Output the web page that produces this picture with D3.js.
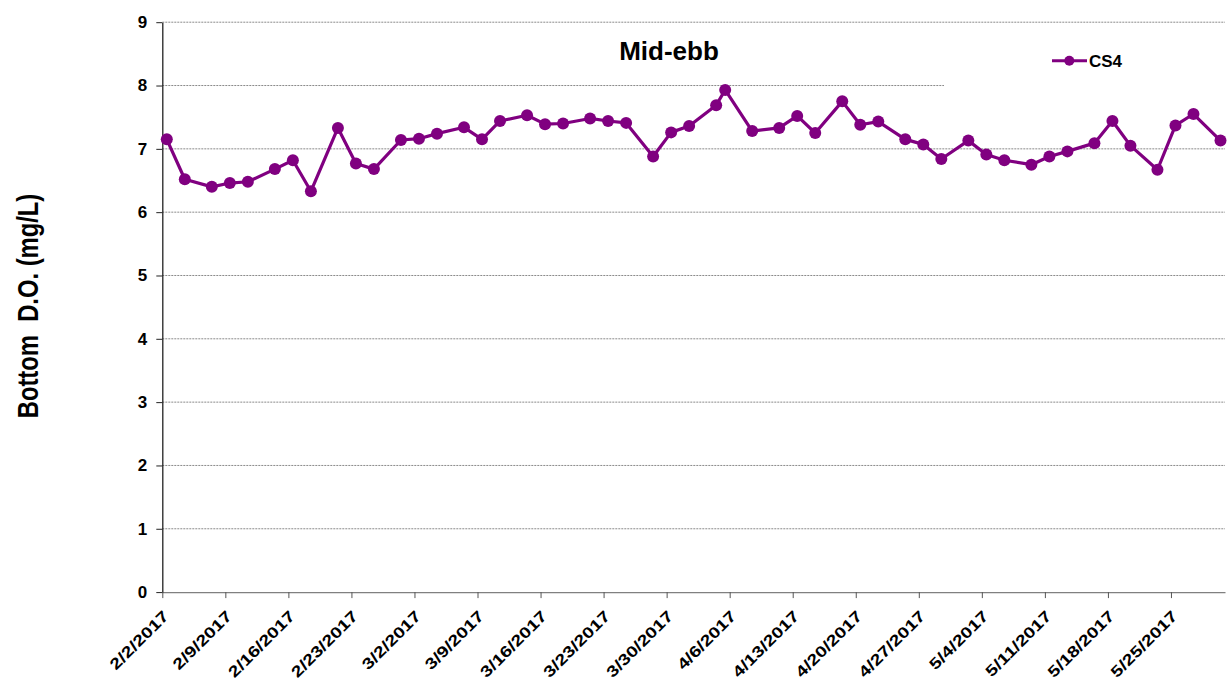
<!DOCTYPE html>
<html><head><meta charset="utf-8">
<script src="https://cdn.jsdelivr.net/npm/d3@7"></script>
<style>body{margin:0;background:#fff;}svg{display:block;font-family:"Liberation Sans",Arial,sans-serif;}</style>
</head><body>
<svg id="c" width="1229" height="680"></svg>
<script>
const dates = ["2017-02-02","2017-02-04","2017-02-07","2017-02-09","2017-02-11","2017-02-14","2017-02-16","2017-02-18","2017-02-21","2017-02-23","2017-02-25","2017-02-28","2017-03-02","2017-03-04","2017-03-07","2017-03-09","2017-03-11","2017-03-14","2017-03-16","2017-03-18","2017-03-21","2017-03-23","2017-03-25","2017-03-28","2017-03-30","2017-04-01","2017-04-04","2017-04-05","2017-04-08","2017-04-11","2017-04-13","2017-04-15","2017-04-18","2017-04-20","2017-04-22","2017-04-25","2017-04-27","2017-04-29","2017-05-02","2017-05-04","2017-05-06","2017-05-09","2017-05-11","2017-05-13","2017-05-16","2017-05-18","2017-05-20","2017-05-23","2017-05-25","2017-05-27","2017-05-30"];
const cs4 = [7.15,6.52,6.40,6.46,6.48,6.68,6.82,6.33,7.33,6.77,6.68,7.14,7.16,7.24,7.34,7.15,7.44,7.53,7.39,7.40,7.48,7.44,7.41,6.88,7.26,7.36,7.69,7.93,7.28,7.33,7.52,7.25,7.75,7.38,7.43,7.15,7.07,6.84,7.13,6.91,6.82,6.75,6.88,6.96,7.09,7.44,7.05,6.67,7.37,7.55,7.13];
const xTickLabels = ["2/2/2017","2/9/2017","2/16/2017","2/23/2017","3/2/2017","3/9/2017","3/16/2017","3/23/2017","3/30/2017","4/6/2017","4/13/2017","4/20/2017","4/27/2017","5/4/2017","5/11/2017","5/18/2017","5/25/2017"];
const yTicks = [0,1,2,3,4,5,6,7,8,9];
const seriesName = "CS4";
const chartTitle = "Mid-ebb";
const yTitle = "Bottom  D.O. (mg/L)";
const xDomain = ["2017-02-02","2017-05-31"];

const svg = d3.select("#c");
const L = 162.3, R = 1225, T = 22.2, B = 592.1;
const parse = d3.timeParse("%Y-%m-%d");
const parseLbl = d3.timeParse("%m/%d/%Y");
const x = d3.scaleTime().domain(xDomain.map(parse)).range([L, R]);
const y = d3.scaleLinear().domain([0, 9]).range([B, T]);
const purple = "#800080";

// gridlines
svg.append("g").selectAll("line").data(yTicks.filter(v => v > 0)).join("line")
  .attr("x1", L).attr("x2", R).attr("y1", d => y(d)).attr("y2", d => y(d))
  .attr("stroke", "#8a8a8a").attr("stroke-width", 1).attr("stroke-dasharray", "2,1");

// legend background (covers part of gridline 8)
svg.append("rect").attr("x", 944).attr("y", 35).attr("width", R - 944 + 1).attr("height", 55).attr("fill", "#fff");

// x axis
const xAxis = d3.axisBottom(x)
  .tickValues(xTickLabels.map(parseLbl))
  .tickFormat(d => d3.timeFormat("%-m/%-d/%Y")(d))
  .tickSize(6).tickSizeOuter(0);
const gx = svg.append("g").attr("transform", `translate(0,${B})`).call(xAxis);
gx.select(".domain").attr("stroke", "#808080").attr("stroke-width", 1.3);
gx.selectAll(".tick line").attr("stroke", "#555");
gx.selectAll("text")
  .attr("font-size", 15.5).attr("font-weight", "bold").attr("fill", "#000")
  .attr("text-anchor", "end").attr("dy", 0)
  .attr("transform", "translate(7,25) rotate(-45) scale(1.26,1)")
  .attr("x", 0).attr("y", 0);

// y axis
const yAxis = d3.axisLeft(y).tickValues(yTicks).tickFormat(d3.format("d")).tickSize(6).tickSizeOuter(0);
const gy = svg.append("g").attr("transform", `translate(${L},0)`).call(yAxis);
gy.select(".domain").attr("stroke", "#222").attr("stroke-width", 1.3);
gy.selectAll(".tick line").attr("stroke", "#222");
gy.selectAll("text").attr("font-size", 17).attr("font-weight", "bold").attr("fill", "#000").attr("x", -15);

// data
const data = dates.map((d, i) => ({ t: d3.timeHour.offset(parse(d), 12), v: cs4[i] }));
svg.append("path").datum(data)
  .attr("fill", "none").attr("stroke", purple).attr("stroke-width", 3.2).attr("stroke-linejoin", "round")
  .attr("d", d3.line().x(d => x(d.t)).y(d => y(d.v)));
svg.append("g").selectAll("circle").data(data).join("circle")
  .attr("cx", d => x(d.t)).attr("cy", d => y(d.v)).attr("r", 6).attr("fill", purple);

// title
svg.append("text").attr("x", 669).attr("y", 60).attr("text-anchor", "middle")
  .attr("font-size", 26).attr("font-weight", "bold").text(chartTitle);

// legend
svg.append("line").attr("x1", 1052).attr("x2", 1087).attr("y1", 60.7).attr("y2", 60.7).attr("stroke", purple).attr("stroke-width", 3);
svg.append("circle").attr("cx", 1069.3).attr("cy", 60.7).attr("r", 5).attr("fill", purple);
svg.append("text").attr("x", 1089).attr("y", 66.7).attr("font-size", 17).attr("font-weight", "bold").text(seriesName);

// y title
svg.append("text").attr("transform", "translate(37.5,306) rotate(-90) scale(1,1.2)").attr("text-anchor", "middle")
  .style("white-space", "pre").attr("xml:space", "preserve")
  .attr("font-size", 23.8).attr("font-weight", "bold").text(yTitle);
</script>
</body></html>
